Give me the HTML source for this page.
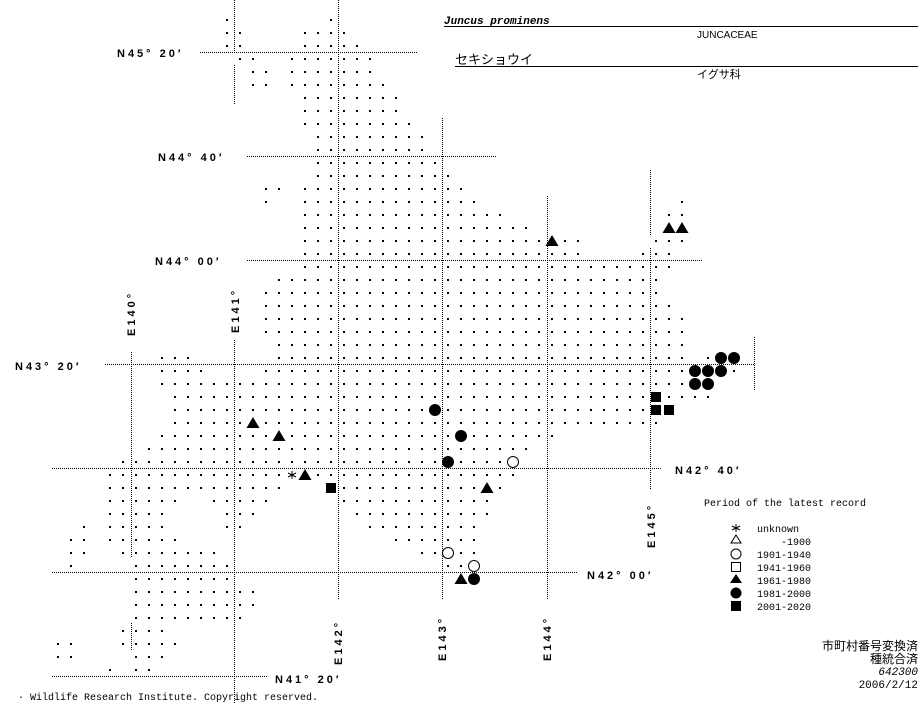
<!DOCTYPE html>
<html><head><meta charset="utf-8"><style>
html,body{margin:0;padding:0;background:#fff;}
svg{display:block;}
.lbl{font-family:"Liberation Sans",sans-serif;font-weight:bold;font-size:11px;letter-spacing:3px;fill:#000;}
.mono{font-family:"Liberation Mono",monospace;font-size:10px;fill:#000;}
.jp{font-family:"Liberation Sans","Noto Sans CJK JP",sans-serif;fill:#000;}
</style></head><body>
<svg id="s" width="923" height="703" viewBox="0 0 923 703" xmlns="http://www.w3.org/2000/svg">
<g stroke="#000" stroke-width="1" stroke-dasharray="1 1" fill="none">
<line x1="200" y1="52.5" x2="417" y2="52.5"/>
<line x1="247" y1="156.5" x2="496" y2="156.5"/>
<line x1="247" y1="260.5" x2="703" y2="260.5"/>
<line x1="105" y1="364.5" x2="754" y2="364.5"/>
<line x1="52" y1="468.5" x2="662" y2="468.5"/>
<line x1="52" y1="572.5" x2="578" y2="572.5"/>
<line x1="52" y1="676.5" x2="268" y2="676.5"/>
<line x1="131.5" y1="352" x2="131.5" y2="558"/>
<line x1="131.5" y1="623" x2="131.5" y2="651"/>
<line x1="234.5" y1="0" x2="234.5" y2="52"/>
<line x1="234.5" y1="65" x2="234.5" y2="104"/>
<line x1="234.5" y1="340" x2="234.5" y2="703"/>
<line x1="338.5" y1="0" x2="338.5" y2="600"/>
<line x1="442.5" y1="118" x2="442.5" y2="600"/>
<line x1="547.5" y1="196" x2="547.5" y2="600"/>
<line x1="650.5" y1="170" x2="650.5" y2="235"/>
<line x1="650.5" y1="248" x2="650.5" y2="490"/>
<line x1="754.5" y1="337" x2="754.5" y2="390"/>
</g>
<g id="dots" fill="#000"></g>
<g id="marks"></g>
<text class="lbl" x="117" y="57">N45° 20′</text>
<text class="lbl" x="158" y="161">N44° 40′</text>
<text class="lbl" x="155" y="265">N44° 00′</text>
<text class="lbl" x="15" y="370">N43° 20′</text>
<text class="lbl" x="675" y="474">N42° 40′</text>
<text class="lbl" x="587" y="579">N42° 00′</text>
<text class="lbl" x="275" y="683">N41° 20′</text>
<text class="lbl" transform="translate(135,336) rotate(-90)">E140°</text>
<text class="lbl" transform="translate(239,333) rotate(-90)">E141°</text>
<text class="lbl" transform="translate(342,665) rotate(-90)">E142°</text>
<text class="lbl" transform="translate(446,661) rotate(-90)">E143°</text>
<text class="lbl" transform="translate(551,661) rotate(-90)">E144°</text>
<text class="lbl" transform="translate(655,548) rotate(-90)">E145°</text>
<text x="444" y="24" font-family="Liberation Mono,monospace" font-size="11" font-weight="bold" font-style="italic" fill="#000">Juncus prominens</text>
<line x1="444" y1="26.5" x2="918" y2="26.5" stroke="#000"/>
<text x="697" y="38" font-family="Liberation Sans,sans-serif" font-size="10" fill="#000">JUNCACEAE</text>
<text class="jp" x="455" y="64" font-size="13">セキショウイ</text>
<line x1="455" y1="66.5" x2="918" y2="66.5" stroke="#000"/>
<text class="jp" x="697" y="78" font-size="11">イグサ科</text>
<text class="mono" x="704" y="506">Period of the latest record</text>
<g class="mono">
<text x="757" y="532">unknown</text>
<text x="781" y="545">-1900</text>
<text x="757" y="558">1901-1940</text>
<text x="757" y="571">1941-1960</text>
<text x="757" y="584">1961-1980</text>
<text x="757" y="597">1981-2000</text>
<text x="757" y="610">2001-2020</text>
</g>
<g stroke="#000" stroke-width="1"><line x1="736" y1="524" x2="736" y2="532"/><line x1="732" y1="526" x2="740" y2="530"/><line x1="732" y1="530" x2="740" y2="526"/></g>
<polygon points="736,535 741,543 731,543" fill="#fff" stroke="#000"/>
<circle cx="736" cy="554" r="5" fill="#fff" stroke="#000"/>
<rect x="731.5" y="562.5" width="9" height="9" fill="#fff" stroke="#000"/>
<polygon points="736,574 742,583 730,583" fill="#000"/>
<circle cx="736" cy="593" r="5.5" fill="#000"/>
<rect x="731" y="601" width="10" height="10" fill="#000"/>
<g class="jp" font-size="12" text-anchor="end">
<text x="918" y="650">市町村番号変換済</text>
<text x="918" y="663">種統合済</text>
<text x="918" y="675" font-style="italic" font-size="11" font-family="Liberation Mono,monospace">642300</text>
<text x="918" y="688" font-size="11" font-family="Liberation Mono,monospace">2006/2/12</text>
</g>
<text x="18" y="700" font-family="Liberation Mono,monospace" font-size="10" fill="#000">· Wildlife Research Institute. Copyright reserved.</text>
</svg>
<script>
var R={"-3":[[7,7],[15,15]],"-2":[[7,8],[13,16]],"-1":[[7,8],[13,17]],"0":[[8,9],[12,18]],"1":[[9,10],[12,18]],"2":[[9,10],[12,19]],
"3":[[13,20]],"4":[[13,20]],"5":[[13,21]],"6":[[14,22]],"7":[[14,22]],"8":[[14,23]],"9":[[14,24]],
"10":[[10,11],[13,25]],"11":[[10,10],[13,26],[42,42]],"12":[[13,28],[41,42]],"13":[[13,30],[41,42]],
"14":[[13,34],[40,42]],"15":[[13,34],[39,41]],"16":[[13,41]],"17":[[11,40]],"18":[[10,40]],"19":[[10,41]],
"20":[[10,42]],"21":[[10,42]],"22":[[11,42]],"23":[[2,4],[11,42],[44,44]],"24":[[2,5],[10,42],[46,46]],
"25":[[2,42]],"26":[[3,44]],"27":[[3,39]],"28":[[3,40]],"29":[[2,32]],"30":[[1,30]],"31":[[-1,28]],
"32":[[-2,29]],"33":[[-2,11],[16,26],[28,28]],"34":[[-2,3],[6,10],[16,27]],"35":[[-2,2],[7,9],[17,27]],
"36":[[-4,-4],[-2,2],[7,8],[18,26]],"37":[[-5,-4],[-2,3],[20,26]],"38":[[-5,-4],[-1,6],[22,26]],
"39":[[-5,-5],[0,7],[24,25]],"40":[[0,7]],"41":[[0,9]],"42":[[0,9]],"43":[[0,8]],"44":[[-1,2]],
"45":[[-6,-5],[-1,3]],"46":[[-6,-5],[0,2]],"47":[[-2,-2],[0,1]]};
var skip={"12,32":1,"13,32":1,"32,14":1,"41,13":1,"42,13":1,"9,28":1,"11,29":1,"25,29":1,"24,31":1,"23,27":1,"40,26":1,"15,33":1,"24,38":1};
function X(c){return 136+13*c;}function Y(r){return 59+13*r;}
var h="";
for(var k in R){var r=+k;R[k].forEach(function(g){for(var c=g[0];c<=g[1];c++){if(skip[c+","+r])continue;h+='<rect x="'+(X(c)-1)+'" y="'+(Y(r)-1)+'" width="2" height="2"/>';}});}
document.getElementById("dots").innerHTML=h;
var m="";
function tri(c,r){var x=X(c),y=Y(r);m+='<polygon points="'+x+','+(y-6)+' '+(x+6.5)+','+(y+5)+' '+(x-6.5)+','+(y+5)+'" fill="#000"/>';}
function cir(c,r){m+='<circle cx="'+X(c)+'" cy="'+Y(r)+'" r="6" fill="#000"/>';}
function ocir(c,r){m+='<circle cx="'+X(c)+'" cy="'+Y(r)+'" r="5.5" fill="#fff" stroke="#000"/>';}
function sq(c,r){m+='<rect x="'+(X(c)-5)+'" y="'+(Y(r)-5)+'" width="10" height="10" fill="#000"/>';}
[[41,13],[42,13],[32,14],[9,28],[11,29],[13,32],[27,33],[25,40]].forEach(function(p){tri(p[0],p[1]);});
[[45,23],[46,23],[43,24],[44,24],[45,24],[43,25],[44,25],[23,27],[25,29],[24,31],[26,40]].forEach(function(p){cir(p[0],p[1]);});
[[29,31],[24,38],[26,39]].forEach(function(p){ocir(p[0],p[1]);});
[[40,26],[40,27],[41,27],[15,33]].forEach(function(p){sq(p[0],p[1]);});
var ax=X(12),ay=Y(32);
m+='<g stroke="#000" stroke-width="1"><line x1="'+ax+'" y1="'+(ay-4)+'" x2="'+ax+'" y2="'+(ay+4)+'"/><line x1="'+(ax-4)+'" y1="'+(ay-2)+'" x2="'+(ax+4)+'" y2="'+(ay+2)+'"/><line x1="'+(ax-4)+'" y1="'+(ay+2)+'" x2="'+(ax+4)+'" y2="'+(ay-2)+'"/></g>';
document.getElementById("marks").innerHTML=m;
</script>
</body></html>
